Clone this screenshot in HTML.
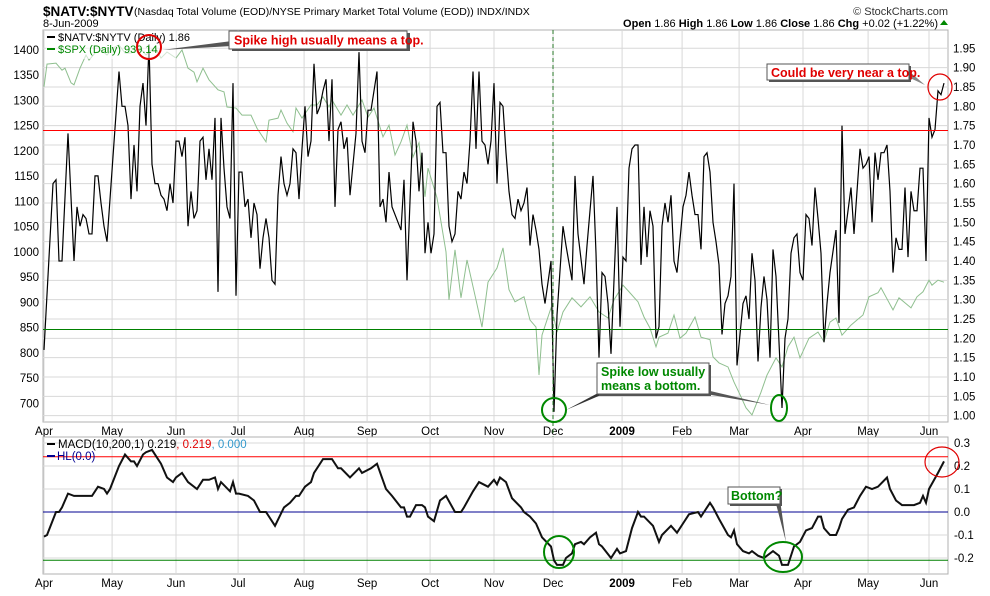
<!DOCTYPE html>
<html><head><meta charset="utf-8">
<style>
body{margin:0;background:#fff;width:990px;height:591px;overflow:hidden;font-family:"Liberation Sans",sans-serif;}
svg text{font-family:"Liberation Sans",sans-serif;}
</style></head>
<body>
<svg id="chart" width="990" height="591" viewBox="0 0 990 591" xmlns="http://www.w3.org/2000/svg">
<g>
<text x="43" y="16" font-size="13.5" font-weight="bold" fill="#000">$NATV:$NYTV</text>
<text x="134" y="15" font-size="10.5" fill="#000">(Nasdaq Total Volume (EOD)/NYSE Primary Market Total Volume (EOD))  INDX/INDX</text>
<text x="43" y="27" font-size="11" fill="#000">8-Jun-2009</text>
<text x="948" y="15" font-size="11" fill="#333" text-anchor="end">© StockCharts.com</text>
<text x="938" y="27" font-size="11" fill="#000" text-anchor="end"><tspan font-weight="bold">Open</tspan> 1.86  <tspan font-weight="bold">High</tspan> 1.86  <tspan font-weight="bold">Low</tspan> 1.86  <tspan font-weight="bold">Close</tspan> 1.86  <tspan font-weight="bold">Chg</tspan> +0.02 (+1.22%)</text>
<path d="M940 25 L944 20 L948 25 Z" fill="#080"/>
</g>
<g id="main"></g>
<g id="lower"></g>
</svg>
<script>
const monthLabels=["Apr","May","Jun","Jul","Aug","Sep","Oct","Nov","Dec","2009","Feb","Mar","Apr","May","Jun"];
const monthDays=[0,22.7,44,64.7,86.7,107.7,128.7,150,169.7,192.7,212.7,231.7,253,274.7,295];
const natvDays=[0,3,4,5,6,8,10,11,12,13,14,15,16,17,18,19,20,21,23,25,26,27,28,29,30,31,32,33,34,35,36,37,38,39,40,41,42,43,44,45,46,47,48,49,50,51,52,53,54,55,56,57,58,59,60,61,62,63,64,65,66,67,68,69,70,71,72,73,74,75,76,77,78,79,80,81,82,83,84,85,86,87,88,89,90,91,92,93,94,95,96,97,98,99,100,101,102,104,105,106,107,108,109,110,111,112,113,114,115,116,117,118,119,120,121,123,124,125,126,127,128,129,130,131,132,133,134,135,136,137,138,139,140,141,142,143,144,145,146,147,148,149,150,151,152,153,154,155,156,157,158,159,160,161,162,163,164,165,166,167,169,170,171,173,174,176,177,178,180,181,183,184,185,186,187,188,189,191,192,193,194,195,196,197,198,199,200,201,202,203,204,205,206,207,208,209,210,211,213,214,215,216,217,218,219,220,221,222,223,224,225,226,227,228,229,230,231,233,234,235,236,237,238,239,240,241,242,243,244,246,247,248,249,250,251,252,253,254,255,256,257,258,259,260,261,262,264,265,266,267,269,270,272,273,274,275,276,277,278,279,280,281,282,283,284,285,286,287,288,289,290,291,292,293,294,295,296,297,298,299,300];
const natvVals=[1.17,1.60,1.61,1.40,1.40,1.73,1.40,1.54,1.49,1.52,1.51,1.47,1.47,1.62,1.62,1.55,1.49,1.45,1.67,1.89,1.80,1.80,1.75,1.56,1.70,1.58,1.80,1.86,1.75,1.96,1.65,1.60,1.60,1.57,1.56,1.53,1.60,1.55,1.71,1.71,1.67,1.72,1.49,1.58,1.51,1.53,1.71,1.72,1.61,1.69,1.61,1.77,1.32,1.77,1.64,1.54,1.51,1.86,1.31,1.63,1.63,1.54,1.56,1.46,1.55,1.52,1.38,1.46,1.51,1.46,1.35,1.34,1.57,1.67,1.60,1.57,1.60,1.69,1.68,1.56,1.69,1.80,1.67,1.71,1.91,1.78,1.80,1.84,1.87,1.71,1.87,1.54,1.74,1.76,1.69,1.72,1.57,1.73,1.94,1.71,1.68,1.79,1.79,1.84,1.89,1.54,1.56,1.50,1.63,1.54,1.52,1.50,1.48,1.61,1.35,1.76,1.71,1.58,1.68,1.42,1.50,1.42,1.47,1.80,1.81,1.68,1.68,1.49,1.45,1.47,1.58,1.56,1.63,1.60,1.71,1.89,1.69,1.89,1.71,1.70,1.65,1.71,1.86,1.60,1.81,1.80,1.68,1.58,1.52,1.51,1.56,1.53,1.55,1.59,1.44,1.52,1.48,1.43,1.34,1.29,1.40,1.01,1.26,1.49,1.44,1.35,1.62,1.47,1.34,1.44,1.62,1.42,1.15,1.37,1.36,1.29,1.16,1.54,1.23,1.41,1.40,1.64,1.69,1.70,1.70,1.39,1.54,1.41,1.53,1.49,1.20,1.23,1.49,1.55,1.50,1.57,1.40,1.37,1.54,1.57,1.63,1.57,1.52,1.52,1.43,1.67,1.68,1.63,1.50,1.45,1.39,1.21,1.29,1.31,1.36,1.60,1.13,1.29,1.31,1.25,1.42,1.35,1.14,1.28,1.36,1.30,1.15,1.43,1.36,1.02,1.20,1.25,1.42,1.46,1.47,1.37,1.35,1.52,1.51,1.44,1.59,1.51,1.42,1.19,1.29,1.37,1.48,1.24,1.75,1.47,1.59,1.47,1.69,1.64,1.65,1.67,1.50,1.68,1.61,1.68,1.68,1.70,1.58,1.37,1.46,1.43,1.43,1.59,1.41,1.58,1.53,1.53,1.64,1.64,1.40,1.77,1.72,1.74,1.84,1.83,1.86];
const spxDays=[0,1,4,6,7,9,10,12,14,15,17,19,21,23,25,27,29,32,34,37,39,41,44,46,48,50,51,53,55,58,60,61,64,66,69,71,74,75,78,79,81,83,84,86,89,91,93,95,96,99,101,103,105,106,108,110,113,115,117,119,121,123,125,127,128,131,134,135,137,139,141,144,146,148,151,153,155,157,160,162,164,165,166,169,170,171,173,176,179,182,185,188,190,193,195,198,200,202,204,205,208,210,212,214,217,219,222,223,225,228,230,232,234,236,239,241,244,246,248,250,252,255,258,260,262,264,266,269,271,273,275,278,279,283,285,289,291,293,295,296,298,300];
const spxVals=[1327,1372,1374,1360,1364,1335,1331,1364,1390,1380,1394,1400,1390,1404,1410,1394,1394,1404,1390,1406,1384,1396,1384,1400,1364,1356,1337,1364,1341,1321,1317,1287,1285,1271,1271,1245,1218,1261,1265,1281,1255,1238,1285,1265,1291,1291,1307,1287,1301,1271,1291,1271,1291,1301,1267,1285,1228,1251,1192,1218,1251,1188,1216,1109,1166,1107,1000,905,1004,909,984,905,851,940,968,1008,925,901,911,865,851,756,835,889,869,841,881,909,891,911,881,869,905,934,921,901,871,849,812,831,839,875,829,839,871,831,826,792,780,772,742,717,691,677,722,756,790,772,812,831,790,829,841,822,861,869,835,855,865,875,911,919,929,885,909,889,911,921,944,934,944,940];
const macdDays=[0,1,4,5,6,8,10,11,14,16,18,20,21,22,25,27,29,30,31,33,34,36,39,41,43,44,46,48,51,53,55,57,58,59,62,63,64,65,68,70,72,74,77,80,82,84,85,87,89,90,93,95,96,98,99,102,105,106,109,111,114,116,119,120,121,122,124,126,127,128,130,132,134,137,139,140,143,145,148,150,151,152,154,156,159,160,162,164,166,169,170,171,173,174,176,177,179,180,182,184,185,186,189,191,192,194,196,198,199,200,203,205,206,209,211,213,215,218,219,220,222,223,225,228,229,230,231,233,235,236,238,240,241,243,245,246,248,250,252,254,256,258,259,260,262,264,265,266,268,270,272,274,276,278,281,282,284,286,288,290,292,293,294,295,298,300];
const macdVals=[-0.107,-0.10,0.00,0.00,0.02,0.08,0.07,0.07,0.07,0.07,0.11,0.10,0.08,0.10,0.20,0.25,0.22,0.22,0.20,0.25,0.26,0.27,0.21,0.15,0.13,0.15,0.17,0.13,0.10,0.14,0.14,0.15,0.10,0.13,0.09,0.13,0.08,0.08,0.07,0.05,0.00,0.00,-0.06,0.02,0.04,0.07,0.07,0.11,0.13,0.17,0.23,0.23,0.23,0.19,0.19,0.15,0.19,0.17,0.19,0.21,0.10,0.07,0.02,0.02,-0.02,-0.02,0.03,0.03,0.02,-0.02,-0.04,0.05,0.07,0.00,0.00,0.02,0.09,0.13,0.11,0.14,0.12,0.15,0.13,0.06,0.02,0.00,-0.02,-0.05,-0.11,-0.15,-0.21,-0.23,-0.23,-0.20,-0.18,-0.14,-0.13,-0.14,-0.11,-0.09,-0.14,-0.15,-0.20,-0.16,-0.18,-0.17,-0.07,0.00,-0.02,-0.02,-0.06,-0.13,-0.10,-0.06,-0.09,-0.05,-0.01,0.00,-0.02,0.00,0.04,0.02,-0.03,-0.10,-0.11,-0.08,-0.14,-0.17,-0.18,-0.17,-0.19,-0.20,-0.19,-0.17,-0.19,-0.23,-0.23,-0.15,-0.13,-0.08,-0.07,-0.02,-0.02,-0.07,-0.10,-0.10,-0.07,-0.03,0.01,0.02,0.07,0.11,0.10,0.11,0.15,0.10,0.05,0.03,0.03,0.03,0.04,0.07,0.04,0.10,0.17,0.22];
const rightTicks=[1.00,1.05,1.10,1.15,1.20,1.25,1.30,1.35,1.40,1.45,1.50,1.55,1.60,1.65,1.70,1.75,1.80,1.85,1.90,1.95];
const leftTicks=[700,750,800,850,900,950,1000,1050,1100,1150,1200,1250,1300,1350,1400];
const macdTicks=[-0.2,-0.1,0.0,0.1,0.2,0.3];
const natvUpper=1.74, natvLower=1.225;
const macdUpper=0.24, macdLower=-0.21;

const NS="http://www.w3.org/2000/svg";
const L=43,R=948,MT=30,MB=422,LT=437,LB=574;
const xS=d=>44+d*3;
const yR=v=>48.3+(1.95-v)*386.7;
const yL=v=>50+(1400-v)*0.5047;
const yM=v=>512-v*230;
function mk(parent,tag,attrs){const e=document.createElementNS(NS,tag);for(const k in attrs)e.setAttribute(k,attrs[k]);parent.appendChild(e);return e;}
const main=document.getElementById('main'),lower=document.getElementById('lower');

function panel(g,top,bot,nm){
  const r=mk(g,'rect',{x:L,y:top,width:R-L,height:bot-top,fill:'#fff',stroke:'#b0b0b0'});
  
  
  monthDays.forEach((d,i)=>{
    const ln=mk(g,'line',{x1:xS(d),x2:xS(d),y1:top,y2:bot,stroke:'#d8d8d8'});
    
    
    const t=mk(g,'text',{x:xS(d),y:bot+13,'font-size':'11.5','text-anchor':'middle',fill:'#000','font-weight':monthLabels[i]==='2009'?'bold':'normal'});
    t.textContent=monthLabels[i];
    
    
  });
}
panel(main,MT,MB,'price-panel');
rightTicks.forEach(v=>{
  const ln=mk(main,'line',{x1:L,x2:R,y1:yR(v),y2:yR(v),stroke:'#d8d8d8'});
  
  
  const t=mk(main,'text',{x:R+5,y:yR(v)+4,'font-size':'11.5',fill:'#000'});
  t.textContent=v.toFixed(2);
  
  
});
leftTicks.forEach(v=>{
  const t=mk(main,'text',{x:L-4,y:yL(v)+4,'font-size':'11.5','text-anchor':'end',fill:'#000'});
  t.textContent=v;
  
  
});
let sp=mk(main,'polyline',{points:spxDays.map((d,i)=>xS(d)+','+yL(spxVals[i])).join(' '),fill:'none',stroke:'#8fbf8f','stroke-width':'1'});


let nl=mk(main,'polyline',{points:natvDays.map((d,i)=>xS(d)+','+yR(natvVals[i])).join(' '),fill:'none',stroke:'#000','stroke-width':'1.2'});


let hl=mk(main,'line',{x1:L,x2:R,y1:Math.round(yR(natvUpper))+0.5,y2:Math.round(yR(natvUpper))+0.5,stroke:'#ff0000','stroke-width':'1'});


hl=mk(main,'line',{x1:L,x2:R,y1:Math.round(yR(natvLower))+0.5,y2:Math.round(yR(natvLower))+0.5,stroke:'#008000','stroke-width':'1'});



panel(lower,LT,LB,'macd-panel');
macdTicks.forEach(v=>{
  const ln=mk(lower,'line',{x1:L,x2:R,y1:yM(v),y2:yM(v),stroke:'#d8d8d8'});
  
  
  const t=mk(lower,'text',{x:R+6,y:yM(v)+4,'font-size':'11.5',fill:'#000'});
  t.textContent=v.toFixed(1);
  
  
});
hl=mk(lower,'line',{x1:L,x2:R,y1:yM(macdUpper),y2:yM(macdUpper),stroke:'#ff0000'});


hl=mk(lower,'line',{x1:L,x2:R,y1:yM(0),y2:yM(0),stroke:'#000090'});


hl=mk(lower,'line',{x1:L,x2:R,y1:yM(macdLower),y2:yM(macdLower),stroke:'#008000'});


let ml=mk(lower,'polyline',{points:macdDays.map((d,i)=>xS(d)+','+yM(macdVals[i])).join(' '),fill:'none',stroke:'#111','stroke-width':'2'});


let dv=mk(main,'line',{x1:553,x2:553,y1:MT,y2:LB,stroke:'#2a7a2a','stroke-dasharray':'4,3'});


</script>
<svg width="990" height="591" style="position:absolute;left:0;top:0">
<g font-family="Liberation Sans, sans-serif" font-weight="bold" font-size="12.5">
<rect x="46" y="31" width="130" height="28" fill="#fff" opacity="0.6"/>
<line x1="47" y1="37" x2="55" y2="37" stroke="#000" stroke-width="2"/>
<text x="58" y="41" font-size="11" font-weight="normal" font-family="Liberation Mono, monospace" fill="#000">$NATV:$NYTV (Daily) 1.86</text>
<line x1="47" y1="49" x2="55" y2="49" stroke="#080" stroke-width="2"/>
<text x="58" y="53" font-size="11" font-weight="normal" font-family="Liberation Mono, monospace" fill="#080">$SPX (Daily) 939.14</text>
<polygon points="162,50 232,41 232,46" fill="#555"/>
<rect x="232" y="33" width="178" height="18" fill="#555"/>
<rect x="229" y="31" width="178" height="18" fill="#fff" stroke="#555"/>
<text x="234" y="44.5" fill="#e00000">Spike high usually means a top.</text>
<circle cx="149" cy="47" r="12" fill="none" stroke="#e00000" stroke-width="2"/>
<polygon points="910,72 925,85 910,78" fill="#888"/>
<rect x="769" y="66" width="142" height="16" fill="#555"/>
<rect x="767" y="64" width="142" height="16" fill="#fff" stroke="#555"/>
<text x="771" y="77" fill="#e00000">Could be very near a top.</text>
<ellipse cx="940" cy="87" rx="12" ry="13" fill="none" stroke="#e00000" stroke-width="1.2"/>
<polygon points="566,410 600,392 608,392" fill="#333"/>
<polygon points="706,390 770,405 700,393" fill="#555"/>
<rect x="599" y="365" width="112" height="31" fill="#555"/>
<rect x="597" y="363" width="112" height="31" fill="#fff" stroke="#555"/>
<text x="601" y="376" fill="#080">Spike low usually</text>
<text x="601" y="390" fill="#080">means a bottom.</text>
<ellipse cx="554" cy="410" rx="12" ry="12" fill="none" stroke="#080" stroke-width="2"/>
<ellipse cx="779" cy="408" rx="8" ry="13" fill="none" stroke="#080" stroke-width="2"/>
<polygon points="775,500 786,542 780,500" fill="#555"/>
<rect x="730" y="489" width="52" height="17" fill="#555"/>
<rect x="728" y="487" width="52" height="17" fill="#fff" stroke="#555"/>
<text x="731" y="500" fill="#080">Bottom?</text>
<ellipse cx="559" cy="552" rx="15" ry="16" fill="none" stroke="#080" stroke-width="2"/>
<ellipse cx="783" cy="557" rx="19" ry="15" fill="none" stroke="#080" stroke-width="2"/>
<ellipse cx="942" cy="462" rx="17" ry="15" fill="none" stroke="#e00000" stroke-width="1.2"/>
<line x1="47" y1="444" x2="55" y2="444" stroke="#000" stroke-width="2"/>
<text x="58" y="448" font-size="11.5" font-weight="normal" fill="#000">MACD(10,200,1) 0.219<tspan fill="#e00000">, 0.219</tspan><tspan fill="#3399cc">, 0.000</tspan></text>
<line x1="47" y1="456" x2="55" y2="456" stroke="#000090" stroke-width="2"/>
<text x="57" y="460" font-size="11.5" font-weight="normal" fill="#000090">HL(0.0)</text>
</g>
</svg>
</body></html>
